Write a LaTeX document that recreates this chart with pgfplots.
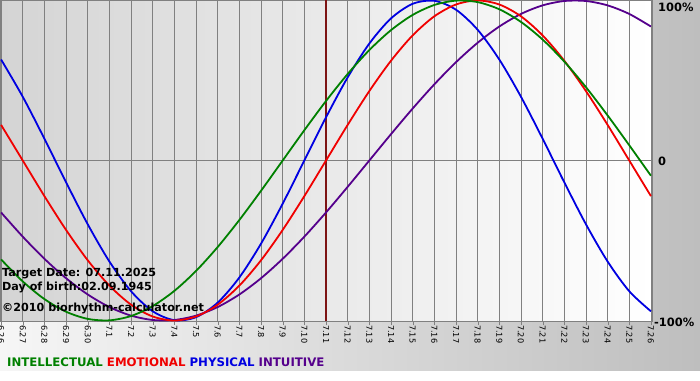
\documentclass[border=0pt]{standalone}
\usepackage{pgfplots}
\pgfplotsset{compat=1.18}
\usepackage{pgfplotstable}
\usepackage{fontspec}
\setmainfont{DejaVu Sans}

\definecolor{cint}{RGB}{0,128,0}
\definecolor{cemo}{RGB}{240,0,0}
\definecolor{cphy}{RGB}{0,0,225}
\definecolor{ctui}{RGB}{85,0,140}
\definecolor{gridc}{RGB}{128,128,128}
\definecolor{vline}{RGB}{125,20,20}
\definecolor{bgl}{RGB}{246,246,246}
\definecolor{bgr}{RGB}{190,190,190}
\definecolor{pal}{RGB}{212,212,212}

\pgfplotstableread{
d phy emo int tui
-15 63.11 22.25 -61.82 -32.47
-14 39.84 0 -75.57 -47.59
-13 13.62 -22.25 -86.60 -61.42
-12 -13.62 -43.39 -94.50 -73.57
-11 -39.84 -62.35 -98.98 -83.72
-10 -63.11 -78.18 -99.89 -91.58
-9 -81.70 -90.10 -97.18 -96.94
-8 -94.23 -97.49 -90.96 -99.66
-7 -99.77 -100 -81.46 -99.66
-6 -97.91 -97.49 -69.01 -96.94
-5 -88.79 -90.10 -54.06 -91.58
-4 -73.08 -78.18 -37.17 -83.72
-3 -51.96 -62.35 -18.93 -73.57
-2 -26.98 -43.39 0 -61.42
-1 0 -22.25 18.93 -47.59
0 26.98 0 37.17 -32.47
1 51.96 22.25 54.06 -16.46
2 73.08 43.39 69.01 0
3 88.79 62.35 81.46 16.46
4 97.91 78.18 90.96 32.47
5 99.77 90.10 97.18 47.59
6 94.23 97.49 99.89 61.42
7 81.70 100 98.98 73.57
8 63.11 97.49 94.50 83.72
9 39.84 90.10 86.60 91.58
10 13.62 78.18 75.57 96.94
11 -13.62 62.35 61.82 99.66
12 -39.84 43.39 45.82 99.66
13 -63.11 22.25 28.17 96.94
14 -81.70 0 9.51 91.58
15 -94.23 -22.25 -9.51 83.72
}\biodata

\begin{document}
\begin{tikzpicture}[x=1bp,y=1bp]
\useasboundingbox (0,0) rectangle (700,380);
\fill[white] (0,0) rectangle (700,380);
\shade[left color=bgl, right color=bgr] (0,10) rectangle (700,380);
\shade[left color=pal, right color=white] (0,59) rectangle (652,380);
\begin{axis}[
  at={(0bp,380bp)}, anchor=north west,
  width=652bp, height=321bp, scale only axis,
  xmin=-15.05, xmax=15.05, ymin=-100.3, ymax=100.3,
  axis line style={gridc},
  xtick={-15,...,15},
  xticklabels={6.26,6.27,6.28,6.29,6.30,7.1,7.2,7.3,7.4,7.5,7.6,7.7,7.8,7.9,7.10,7.11,7.12,7.13,7.14,7.15,7.16,7.17,7.18,7.19,7.20,7.21,7.22,7.23,7.24,7.25,7.26},
  xticklabel style={rotate=-90, anchor=west, inner sep=0pt, font=\fontsize{8.2}{9}\selectfont},
  tick align=outside, xtick pos=bottom, major tick length=4bp,
  xtick style={gridc},
  ytick=\empty,
  xmajorgrids,
  grid style={gridc, line width=0.8bp},
  clip=true,
]
\addplot[gridc, line width=0.8bp] coordinates {(-15.05,0) (15.05,0)};
\addplot[vline, line width=2.2bp] coordinates {(0,-100.3) (0,100.3)};
\addplot[ctui, line width=1.8bp, smooth] table[x=d, y=tui] {\biodata};
\addplot[cphy, line width=1.8bp, smooth] table[x=d, y=phy] {\biodata};
\addplot[cemo, line width=1.8bp, smooth] table[x=d, y=emo] {\biodata};
\addplot[cint, line width=1.8bp, smooth] table[x=d, y=int] {\biodata};
\end{axis}
\begin{scope}[every node/.style={inner sep=0pt, font=\bfseries\fontsize{11.2}{12}\selectfont}]
\node[anchor=base west] at (2,104) {Target Date: 07.11.2025};
\node[anchor=base west] at (2,90) {Day of birth:02.09.1945};
\node[anchor=base west] at (2,69) {©2010 biorhythm-calculator.net};
\node[anchor=west, font=\bfseries\fontsize{11.5}{12}\selectfont] at (658,373) {100\%};
\node[anchor=west, font=\bfseries\fontsize{11.5}{12}\selectfont] at (658,219) {0};
\node[anchor=west, font=\bfseries\fontsize{11.5}{12}\selectfont] at (654,58) {-100\%};
\node[anchor=base west, font=\bfseries\fontsize{11.8}{13}\selectfont] at (7,14) {\color{cint}INTELLECTUAL \color{cemo}EMOTIONAL \color{cphy}PHYSICAL \color{ctui}INTUITIVE};
\end{scope}
\end{tikzpicture}
\end{document}
